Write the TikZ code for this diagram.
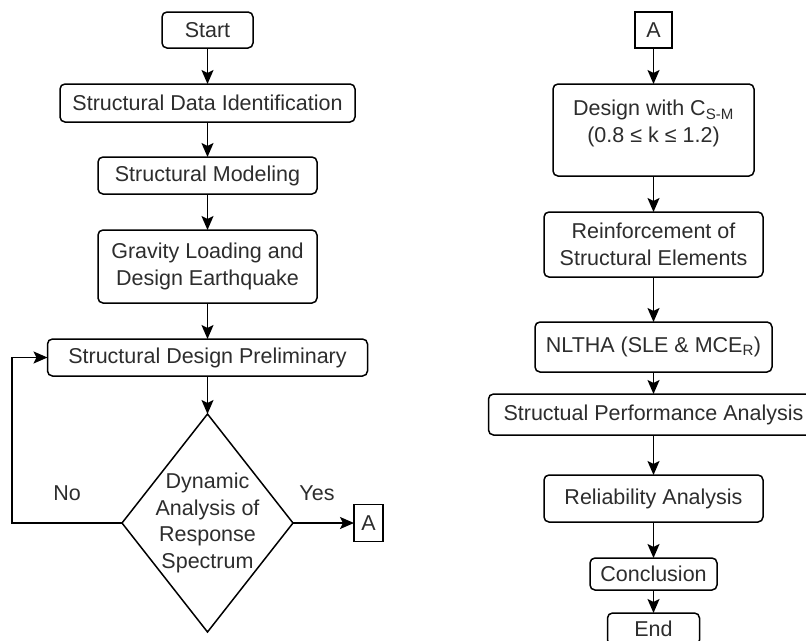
\documentclass[tikz,border=0pt]{standalone}
\usepackage{fontspec}
\setmainfont{Liberation Sans}
\usepackage{tikz}
\usetikzlibrary{shapes.geometric, arrows.meta, positioning, calc}
\definecolor{mydark}{RGB}{0,0,0}
\definecolor{mytext}{RGB}{45,45,45}
\tikzset{
  proc/.style={rectangle, draw=mydark, fill=white, align=center,
    font=\fontsize{21.5}{26.5}\selectfont, text=mytext,
    rounded corners=5pt, line width=1.5pt, inner sep=2pt, outer sep=0pt},
  conn/.style={rectangle, draw=mydark, fill=white, align=center,
    font=\fontsize{21.5}{26.5}\selectfont, text=mytext,
    line width=1.5pt, inner sep=2pt, outer sep=0pt},
  decision/.style={diamond, draw=mydark, fill=white, align=center,
    font=\fontsize{21.5}{26.5}\selectfont, text=mytext,
    line width=1.5pt, inner sep=-15pt, outer sep=0pt, aspect=0.78},
  lbl/.style={font=\fontsize{21.5}{26.5}\selectfont, text=mytext, inner sep=0pt},
  arrow/.style={-{Stealth[length=14pt, width=12pt, inset=3pt]}, line width=1.7pt, color=mydark}
}
\begin{document}
\begin{tikzpicture}[x=1pt, y=1pt]
  \useasboundingbox (0,0) rectangle (806,-640);

  % Left column
  \node[proc, minimum width=91pt, minimum height=36pt] (start) at (207.5,-30) {Start};
  \node[proc, minimum width=295pt, minimum height=38pt, below=36pt of start] (data) {Structural Data Identification};
  \node[proc, minimum width=219pt, minimum height=37pt, below=35pt of data] (model) {Structural Modeling};
  \node[proc, minimum width=219pt, minimum height=73pt, below=36pt of model] (load) {Gravity Loading and\\Design Earthquake};
  \node[proc, minimum width=320pt, minimum height=37pt, below=36pt of load] (prelim) {Structural Design Preliminary};
  \node[decision, minimum width=171pt, minimum height=218pt, below=38pt of prelim] (rsa) {Dynamic\\Analysis of\\Response\\Spectrum};
  \node[conn, minimum width=29pt, minimum height=37pt, right=61pt of rsa] (goA) {A};
  \coordinate (loopx) at (12,0);

  \node[lbl] (no) at ($(rsa.west)+(-55,30)$) {No};
  \node[lbl] (yes) at ($(rsa.east)+(24,30)$) {Yes};

  % Right column
  \node[conn, minimum width=37pt, minimum height=36pt] (fromA) at (653.5,-30) {A};
  \node[proc, minimum width=201pt, minimum height=92pt, below=36pt of fromA] (csm) {Design with C\textsubscript{S-M}\\(0.8 ≤ k ≤ 1.2)\\[-9pt]~};
  \node[proc, minimum width=219pt, minimum height=65pt, below=36pt of csm] (reinf) {Reinforcement of\\Structural Elements};
  \node[proc, minimum width=237pt, minimum height=50pt, below=45pt of reinf] (nltha) {NLTHA (SLE \& MCE\textsubscript{R})};
  \node[proc, minimum width=330pt, minimum height=41pt, below=22pt of nltha] (perf) {Structual Performance Analysis};
  \node[proc, minimum width=219pt, minimum height=47pt, below=40pt of perf] (rel) {Reliability Analysis};
  \node[proc, minimum width=127pt, minimum height=32pt, below=36pt of rel] (concl) {Conclusion};
  \node[proc, minimum width=92pt, minimum height=32pt, below=23pt of concl] (end) {End};

  % Paths
  \draw[arrow] (start) -- (data);
  \draw[arrow] (data) -- (model);
  \draw[arrow] (model) -- (load);
  \draw[arrow] (load) -- (prelim);
  \draw[arrow] (prelim) -- (rsa);
  \draw[arrow] (rsa.east) -- (goA);
  \draw[arrow] (rsa.west) -- (rsa.west -| loopx) |- (prelim.west);

  \draw[arrow] (fromA) -- (csm);
  \draw[arrow] (csm) -- (reinf);
  \draw[arrow] (reinf) -- (nltha);
  \draw[arrow] (nltha) -- (perf);
  \draw[arrow] (perf) -- (rel);
  \draw[arrow] (rel) -- (concl);
  \draw[arrow] (concl) -- (end);
\end{tikzpicture}
\end{document}
